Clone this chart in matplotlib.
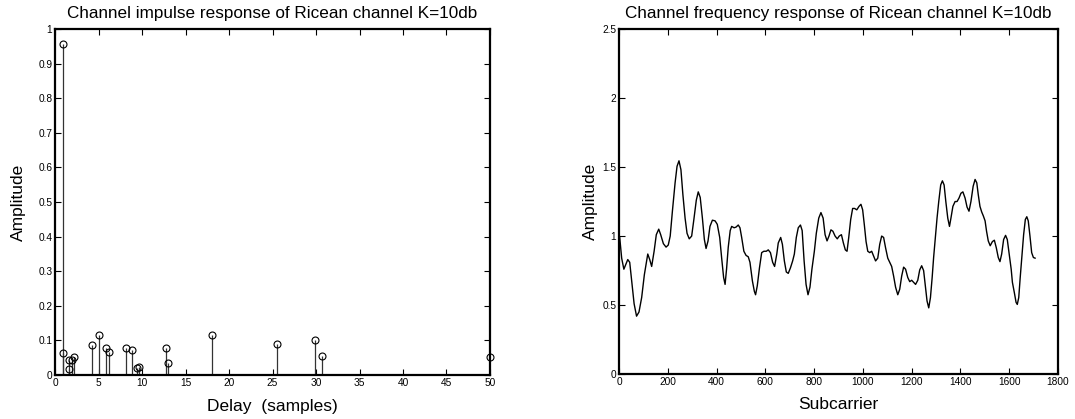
import matplotlib
matplotlib.use("Agg")
import matplotlib.pyplot as plt

plt.rcParams["font.family"] = ["Liberation Sans", "DejaVu Sans"]

# Impulse response taps: delay (samples) and amplitude
tap_delay = [0.95, 0.95, 1.62, 1.65, 2.0, 2.23, 4.23, 5.08, 5.85, 6.15,
             8.12, 8.81, 9.46, 9.69, 12.8, 13.0, 18.08, 25.55, 29.92, 30.7, 50.0]
tap_amp = [0.955, 0.065, 0.044, 0.017, 0.044, 0.051, 0.088, 0.117, 0.077, 0.066,
           0.077, 0.071, 0.020, 0.022, 0.077, 0.036, 0.116, 0.089, 0.102, 0.055, 0.053]

# Frequency response magnitude over subcarriers
subcarrier = [0, 3, 11, 20, 36, 44, 52, 62, 72, 82, 93, 104, 118, 126, 134, 144, 153, 163,
              171, 182, 193, 202, 210, 219, 230, 238, 246, 254, 262, 271, 279, 288, 298,
              307, 317, 325, 333, 342, 350, 357, 365, 373, 383, 394, 403, 413, 421, 429,
              435, 441, 448, 456, 462, 472, 480, 489, 496, 503, 512, 521, 530, 537, 547,
              555, 560, 567, 576, 585, 594, 604, 612, 621, 630, 638, 647, 653, 663, 670,
              678, 686, 694, 703, 712, 719, 727, 735, 744, 751, 759, 767, 775, 783, 791,
              801, 809, 819, 828, 837, 845, 853, 861, 869, 877, 886, 895, 903, 912, 920,
              928, 935, 942, 950, 958, 966, 975, 984, 992, 999, 1006, 1013, 1020, 1028,
              1036, 1044, 1052, 1061, 1069, 1077, 1085, 1093, 1102, 1110, 1118, 1126,
              1134, 1143, 1151, 1159, 1167, 1175, 1184, 1192, 1200, 1208, 1216, 1225,
              1233, 1241, 1249, 1256, 1263, 1270, 1277, 1284, 1290, 1297, 1304, 1311,
              1319, 1326, 1333, 1340, 1348, 1355, 1361, 1369, 1378, 1386, 1394, 1402,
              1410, 1419, 1427, 1435, 1443, 1452, 1460, 1467, 1473, 1480, 1487, 1494,
              1501, 1507, 1514, 1522, 1531, 1539, 1547, 1555, 1562, 1569, 1577, 1585,
              1592, 1599, 1608, 1613, 1621, 1628, 1633, 1639, 1645, 1652, 1659, 1666,
              1672, 1678, 1685, 1692, 1699, 1706]
freq_amp = [1.0, 0.99, 0.84, 0.76, 0.83, 0.81, 0.675, 0.51, 0.42, 0.45, 0.555, 0.72, 0.87,
            0.83, 0.78, 0.89, 1.01, 1.05, 1.01, 0.945, 0.92, 0.935, 1.0, 1.18, 1.385, 1.505,
            1.545, 1.48, 1.30, 1.13, 1.02, 0.98, 1.0, 1.12, 1.26, 1.32, 1.28, 1.13, 0.976,
            0.91, 0.964, 1.07, 1.115, 1.11, 1.085, 0.99, 0.84, 0.70, 0.65, 0.76, 0.92, 1.04,
            1.07, 1.06, 1.065, 1.08, 1.06, 0.99, 0.89, 0.86, 0.85, 0.81, 0.675, 0.60, 0.575,
            0.64, 0.77, 0.88, 0.89, 0.89, 0.90, 0.88, 0.81, 0.78, 0.87, 0.95, 0.99, 0.94,
            0.82, 0.74, 0.73, 0.77, 0.82, 0.87, 0.99, 1.06, 1.08, 1.04, 0.82, 0.65, 0.575,
            0.63, 0.76, 0.89, 1.02, 1.13, 1.17, 1.13, 1.01, 0.965, 1.0, 1.045, 1.035, 1.0,
            0.98, 1.0, 1.01, 0.95, 0.90, 0.89, 0.99, 1.12, 1.20, 1.20, 1.19, 1.215, 1.23,
            1.19, 1.08, 0.96, 0.89, 0.88, 0.89, 0.855, 0.82, 0.84, 0.94, 1.0, 0.99, 0.915,
            0.84, 0.81, 0.78, 0.71, 0.63, 0.575, 0.615, 0.71, 0.775, 0.76, 0.70, 0.67, 0.68,
            0.665, 0.65, 0.68, 0.755, 0.785, 0.75, 0.64, 0.53, 0.48, 0.555, 0.70, 0.845,
            0.99, 1.13, 1.25, 1.37, 1.40, 1.37, 1.25, 1.13, 1.07, 1.13, 1.215, 1.25, 1.25,
            1.275, 1.31, 1.32, 1.275, 1.21, 1.18, 1.25, 1.36, 1.41, 1.385, 1.30, 1.215,
            1.175, 1.145, 1.11, 1.035, 0.965, 0.93, 0.96, 0.97, 0.915, 0.845, 0.815, 0.87,
            0.975, 1.005, 0.975, 0.88, 0.76, 0.665, 0.59, 0.52, 0.505, 0.555, 0.70, 0.856,
            1.01, 1.12, 1.14, 1.11, 1.0, 0.88, 0.845, 0.84]

left_xticks = list(range(0, 51, 5))
left_yticks = [0, 0.1, 0.2, 0.3, 0.4, 0.5, 0.6, 0.7, 0.8, 0.9, 1]
right_xticks = list(range(0, 1801, 200))
right_yticks = [0, 0.5, 1, 1.5, 2, 2.5]

fig = plt.figure(figsize=(10.75, 4.19), dpi=100)
ax1 = fig.add_axes([0.0512, 0.105, 0.4046, 0.826])
ax2 = fig.add_axes([0.5758, 0.107, 0.4084, 0.824])


def style(ax):
    for s in ax.spines.values():
        s.set_linewidth(1.6)
        s.set_color("black")
    ax.tick_params(direction="in", top=True, right=True, length=4, width=0.8,
                   labelsize=7.3, pad=2, colors="black")


# Impulse response as a stem plot
markerline, stemlines, baseline = ax1.stem(tap_delay, tap_amp, linefmt="k-",
                                           markerfmt="ko", basefmt="k-")
plt.setp(stemlines, linewidth=0.9, color="#333333")
plt.setp(markerline, markersize=5, markerfacecolor="none",
         markeredgecolor="black", markeredgewidth=0.8)
plt.setp(baseline, linewidth=1.2)
markerline.set_clip_on(False)
ax1.set_xlim(0, 50)
ax1.set_ylim(0, 1)
ax1.set_xticks(left_xticks)
ax1.set_yticks(left_yticks)
ax1.set_yticklabels(["0", "0.1", "0.2", "0.3", "0.4", "0.5", "0.6", "0.7", "0.8", "0.9", "1"])
ax1.set_title("Channel impulse response of Ricean channel K=10db", fontsize=12.3, pad=8)
ax1.set_xlabel("Delay  (samples)", fontsize=12.5, labelpad=8)
ax1.set_ylabel("Amplitude", fontsize=12.5, labelpad=9)
style(ax1)

# Frequency response curve
ax2.plot(subcarrier, freq_amp, color="black", linewidth=1.0)
ax2.set_xlim(0, 1800)
ax2.set_ylim(0, 2.5)
ax2.set_xticks(right_xticks)
ax2.set_yticks(right_yticks)
ax2.set_yticklabels(["0", "0.5", "1", "1.5", "2", "2.5"])
ax2.set_title("Channel frequency response of Ricean channel K=10db", fontsize=12.3, pad=8)
ax2.set_xlabel("Subcarrier", fontsize=12.5, labelpad=7)
ax2.set_ylabel("Amplitude", fontsize=12.5, labelpad=3)
style(ax2)

fig.savefig("out.png", dpi=100)
